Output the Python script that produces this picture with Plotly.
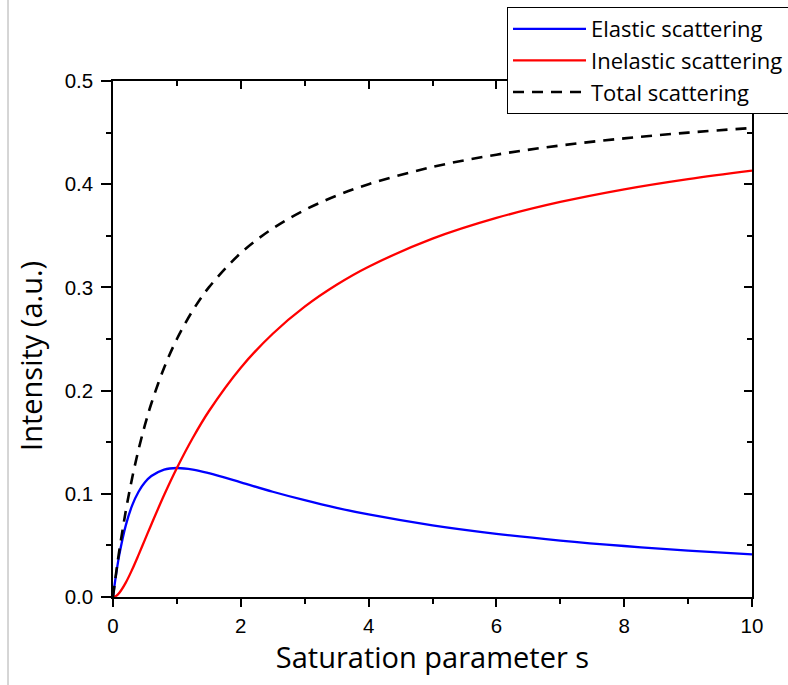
import plotly.graph_objects as go

# Saturation parameter values
s_vals = [0, 0.05, 0.1, 0.2, 0.3, 0.4, 0.5, 0.6, 0.8, 1.0, 1.25, 1.5, 2, 2.5,
          3, 3.5, 4, 5, 6, 7, 8, 9, 10]
elastic = [0, 0.0227, 0.0413, 0.0694, 0.0888, 0.1020, 0.1111, 0.1172, 0.1235,
           0.125, 0.1235, 0.120, 0.1111, 0.1020, 0.0938, 0.0864, 0.080,
           0.0694, 0.0612, 0.0547, 0.0494, 0.045, 0.0413]
inelastic = [0, 0.0011, 0.0041, 0.0139, 0.0266, 0.0408, 0.0556, 0.0703, 0.0988,
             0.125, 0.1543, 0.180, 0.2222, 0.2551, 0.2813, 0.3025, 0.320,
             0.3472, 0.3673, 0.3828, 0.3951, 0.405, 0.4132]
total = [0, 0.0238, 0.0455, 0.0833, 0.1154, 0.1429, 0.1667, 0.1875, 0.2222,
         0.25, 0.2778, 0.300, 0.3333, 0.3571, 0.375, 0.3889, 0.400,
         0.4167, 0.4286, 0.4375, 0.4444, 0.450, 0.4545]

x_ticks = [0, 2, 4, 6, 8, 10]
y_ticks = [0.0, 0.1, 0.2, 0.3, 0.4, 0.5]
y_tick_text = ["0.0", "0.1", "0.2", "0.3", "0.4", "0.5"]

fig = go.Figure()
fig.add_trace(go.Scatter(x=s_vals, y=elastic, mode="lines", name="Elastic scattering",
                         line=dict(color="#0000ff", width=2.3, shape="spline")))
fig.add_trace(go.Scatter(x=s_vals, y=inelastic, mode="lines", name="Inelastic scattering",
                         line=dict(color="#ff0000", width=2.3, shape="spline")))
fig.add_trace(go.Scatter(x=s_vals, y=total, mode="lines", name="Total scattering",
                         line=dict(color="#000000", width=2.6, dash="11px,8px", shape="spline")))
# empty helper trace so the mirrored (top/right) axes with inward ticks are drawn
fig.add_trace(go.Scatter(x=[None], y=[None], xaxis="x2", yaxis="y2", mode="lines",
                         showlegend=False, hoverinfo="skip"))

tick_font = dict(family="Liberation Sans, Arial", size=20.5, color="#000")
title_font = dict(family="Open Sans, Noto Sans", size=29, color="#000")
axis_common = dict(showgrid=False, zeroline=False, linecolor="#000", linewidth=1.5,
                   showline=True, tickcolor="#000", tickwidth=1.5)

fig.update_layout(
    width=788, height=685,
    margin=dict(l=113, r=36, t=81, b=88, autoexpand=False),
    paper_bgcolor="white", plot_bgcolor="white",
    showlegend=True,
    legend=dict(x=0.6166, y=1.1434, xanchor="left", yanchor="top",
                bgcolor="white", bordercolor="#000", borderwidth=1,
                font=dict(family="Open Sans, Noto Sans", size=22, color="#000"),
                itemwidth=73, tracegroupgap=0),
    xaxis=dict(range=[0, 10], tickvals=x_ticks, ticks="outside", ticklen=8,
               tickfont=tick_font, ticklabelstandoff=2, automargin=False,
               title=dict(text="Saturation parameter s", font=title_font, standoff=1),
               minor=dict(ticks="outside", ticklen=5, tickcolor="#000", tickwidth=1.5, dtick=1),
               **axis_common),
    yaxis=dict(range=[0, 0.5], tickvals=y_ticks, ticktext=y_tick_text, ticks="outside",
               ticklen=10, tickfont=tick_font, ticklabelstandoff=4, automargin=False,
               minor=dict(ticks="outside", ticklen=5, tickcolor="#000", tickwidth=1.5, dtick=0.05),
               **axis_common),
    xaxis2=dict(range=[0, 10], overlaying="x", side="top", anchor="y2",
                tickvals=x_ticks, ticks="inside", ticklen=8, showticklabels=False,
                automargin=False,
                minor=dict(ticks="inside", ticklen=5, tickcolor="#000", tickwidth=1.5, dtick=1),
                **axis_common),
    yaxis2=dict(range=[0, 0.5], overlaying="y", side="right", anchor="x2",
                tickvals=y_ticks, ticks="inside", ticklen=8, showticklabels=False,
                automargin=False,
                minor=dict(ticks="inside", ticklen=5, tickcolor="#000", tickwidth=1.5, dtick=0.05),
                **axis_common),
    annotations=[dict(text="Intensity (a.u.)", textangle=-90, xref="paper", yref="paper",
                      x=-0.13, y=0.467, xanchor="center", yanchor="middle",
                      showarrow=False, font=title_font)],
    shapes=[dict(type="line", xref="paper", yref="paper", x0=-0.1643, x1=-0.1643,
                 y0=-0.171, y1=1.157, line=dict(color="#c8c8c8", width=1.5))],
)

fig.write_html("out.html")
